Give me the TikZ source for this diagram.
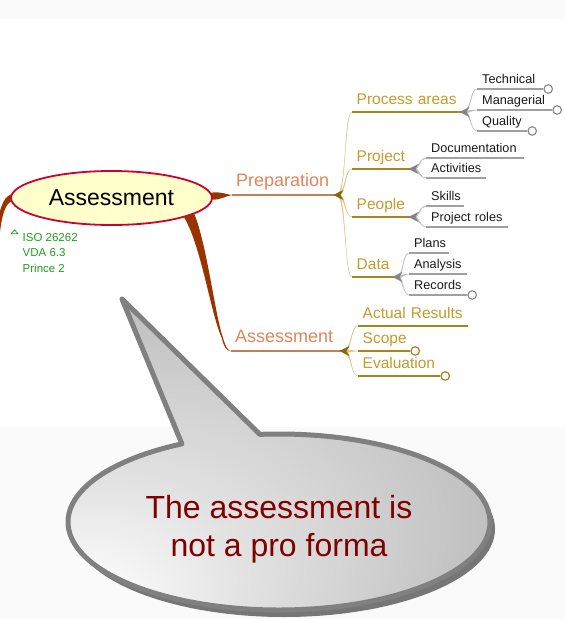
\documentclass[tikz,border=0pt]{standalone}
\usepackage{fontspec}
\setmainfont{Liberation Sans}
\usetikzlibrary{shapes.geometric,calc}

\definecolor{bgband}{HTML}{FAFAFA}
\definecolor{rootfill}{HTML}{FFFFCC}
\definecolor{rootline}{HTML}{CC0033}
\definecolor{brbranch}{HTML}{993300}
\definecolor{maintext}{HTML}{E0845A}
\definecolor{mainline}{HTML}{C08060}
\definecolor{goldtext}{HTML}{C49A2C}
\definecolor{goldline}{HTML}{A8841C}
\definecolor{goldknot}{HTML}{8B6508}
\definecolor{goldbranch}{HTML}{D9C78E}
\definecolor{leafline}{HTML}{A0A0A0}
\definecolor{leafknot}{HTML}{858585}
\definecolor{leafbranch}{HTML}{BBBBBB}
\definecolor{notegreen}{HTML}{1E9E1E}
\definecolor{calloutline}{HTML}{808080}
\definecolor{calloutshadow}{HTML}{767676}
\definecolor{callouttext}{HTML}{800000}

\pgfdeclareradialshading{calloutshade}{\pgfpoint{-28bp}{-28bp}}{color(0bp)=(white); color(4bp)=(white); color(15bp)=(gray!22); color(32bp)=(gray!48); color(46bp)=(gray!64); color(50bp)=(gray!66)}

\tikzset{
  rootnode/.style={ellipse, draw=rootline, fill=rootfill, line width=1.8pt, minimum width=201pt, minimum height=54pt, inner sep=0pt, font=\fontsize{23}{27}\selectfont},
  notetext/.style={inner sep=0pt, align=left, text=notegreen, font=\fontsize{11.5}{15.8}\selectfont},
  maintopic/.style={anchor=south west, inner xsep=4pt, inner ysep=0pt, text depth=8pt, text width=#1, align=left, text=maintext, font=\fontsize{18}{21}\selectfont},
  subtopic/.style={anchor=south west, inner xsep=4.5pt, inner ysep=0pt, text depth=7.5pt, text width=#1, align=left, text=goldtext, font=\fontsize{15.5}{18}\selectfont},
  leaf/.style={anchor=south west, inner xsep=5pt, inner ysep=0pt, text depth=5.5pt, text width=#1, align=left, text=black!90, font=\fontsize{12.7}{15}\selectfont},
  mainunder/.style={draw=mainline, line width=1.4pt},
  goldunder/.style={draw=goldline, line width=1.8pt},
  leafunder/.style={draw=leafline, line width=1.2pt},
  goldfork/.style={fill=goldbranch, draw=goldbranch, line width=0.4pt},
  leaffork/.style={fill=leafbranch, draw=leafbranch, line width=0.4pt},
  goldend/.style={circle, draw=goldline, fill=white, line width=1.2pt, minimum size=8.5pt, inner sep=0pt, anchor=west},
  leafend/.style={circle, draw=leafknot, fill=white, line width=1.1pt, minimum size=8.5pt, inner sep=0pt, anchor=west},
  callout/.style={shading=calloutshade, draw=calloutline, line width=5pt, line join=round},
  callouttext/.style={align=center, text=callouttext, font=\fontsize{32}{38}\selectfont}
}

\begin{document}
\begin{tikzpicture}[x=1pt, y=-1pt]
  \useasboundingbox (0,0) rectangle (565,619);
  \clip (0,0) rectangle (565,619);
  \fill[bgband] (0,0) rectangle (565,19);
  \fill[bgband] (0,427) rectangle (565,619);

  % central topic
  \node[rootnode] (root) at (111.5,198) {Assessment};
  \node[notetext, anchor=north west] (notes) at (22.5,232.8) {ISO 26262\\VDA 6.3\\Prince 2};
  \draw[notegreen, line width=0.7pt] ($(notes.north west)+(-11.5,1)$) -- ($(notes.north west)+(-8,-3)$) -- ($(notes.north west)+(-4.5,1)$) -- cycle;

  % main topics
  \node[maintopic=97pt] (prep) at (232,195) {Preparation};
  \node[maintopic=104pt] (assess) at (231,351) {Assessment};

  \node[subtopic=102pt] (procareas) at (352,112) {Process areas};
  \node[subtopic=51pt] (project) at (352,169) {Project};
  \node[subtopic=51pt] (people) at (352,217) {People};
  \node[subtopic=35pt] (data) at (352,277) {Data};
  \node[subtopic=101pt] (actual) at (358,326) {Actual Results};
  \node[subtopic=43pt] (scope) at (358,351) {Scope};
  \node[subtopic=73pt] (evaluation) at (358,376) {Evaluation};

  \node[leaf=56pt] (tech) at (477,89) {Technical};
  \node[leaf=65pt] (manag) at (477,110) {Managerial};
  \node[leaf=40pt] (quality) at (477,131) {Quality};
  \node[leaf=88pt] (docu) at (426,158) {Documentation};
  \node[leaf=50pt] (activ) at (426,178) {Activities};
  \node[leaf=28pt] (skills) at (426,206) {Skills};
  \node[leaf=72pt] (roles) at (426,227) {Project roles};
  \node[leaf=30pt] (plans) at (409,253) {Plans};
  \node[leaf=48pt] (analysis) at (409,274) {Analysis};
  \node[leaf=48pt] (records) at (409,295) {Records};

  % brown branches off the central topic
  \fill[brbranch] (root.178) .. controls (3,197) and (-1,210) .. (-4,232)
    -- (0,232) .. controls (2,215) and (5,205) .. (root.182) -- cycle;
  \fill[brbranch] (root.3) .. controls (220,191) and (226,194.5) .. (prep.south west)
    .. controls (226,196) and (220,200) .. (root.-1) -- cycle;
  \fill[brbranch] (root.-11) .. controls (207,245) and (215,315) .. (223,338)
    .. controls (226,348) and (228,350.5) .. (assess.south west)
    .. controls (227,351) and (224,348) .. (222,338.5)
    .. controls (211,315) and (201,245) .. (root.-15) -- cycle;

  % forks
  \foreach \k/\c in {prep/procareas,prep/project,prep/people,prep/data,assess/actual,assess/scope,assess/evaluation}
    \filldraw[goldfork] ($(\k.south east)+(0,-1.5)$) .. controls +(9,0) and +(-8,0) .. (\c.south west)
      .. controls +(-7.5,0) and +(8.5,0) .. ($(\k.south east)+(0,1.5)$) -- cycle;
  \foreach \k/\c in {procareas/tech,procareas/manag,procareas/quality,project/docu,project/activ,people/skills,people/roles,data/plans,data/analysis,data/records}
    \filldraw[leaffork] ($(\k.south east)+(0,-1.2)$) .. controls +(8,0) and +(-7,0) .. (\c.south west)
      .. controls +(-6.5,0) and +(7.5,0) .. ($(\k.south east)+(0,1.2)$) -- cycle;

  % underlines
  \foreach \n in {prep,assess}
    \draw[mainunder] (\n.south west) -- (\n.south east);
  \foreach \n in {procareas,project,people,data,actual,scope,evaluation}
    \draw[goldunder] (\n.south west) -- (\n.south east);
  \foreach \n in {tech,manag,quality,docu,activ,skills,roles,plans,analysis,records}
    \draw[leafunder] (\n.south west) -- (\n.south east);

  % knots
  \foreach \k in {prep,assess}
    \fill[goldknot] (\k.south east) +(-4,0) -- +(6,-5) -- +(3,0) -- +(6,5) -- cycle;
  \foreach \k in {procareas,project,people,data}
    \fill[leafknot] (\k.south east) +(-4,0) -- +(6,-5) -- +(3,0) -- +(6,5) -- cycle;

  \node[leafend] (techend) at (tech.south east) {};
  \node[leafend] (managend) at (manag.south east) {};
  \node[leafend] (qualityend) at (quality.south east) {};
  \node[leafend] (recordsend) at (records.south east) {};
  \node[goldend] (scopeend) at (scope.south east) {};
  \node[goldend] (evaluationend) at (evaluation.south east) {};

  % callout
  \coordinate (tip) at (122,299);
  \coordinate (bubble) at (279,522);
  \fill[calloutshadow] ($(bubble)+(5,7)$) ellipse [x radius=211, y radius=88];
  \shade[callout] (tip) -- ($(bubble)+(264.8:211 and 88)$)
    arc [start angle=264.8, end angle=602.6, x radius=211, y radius=88] -- cycle;
  \node[callouttext] (callout) at (279,529) {The assessment is\\not a pro forma};

\end{tikzpicture}
\end{document}
